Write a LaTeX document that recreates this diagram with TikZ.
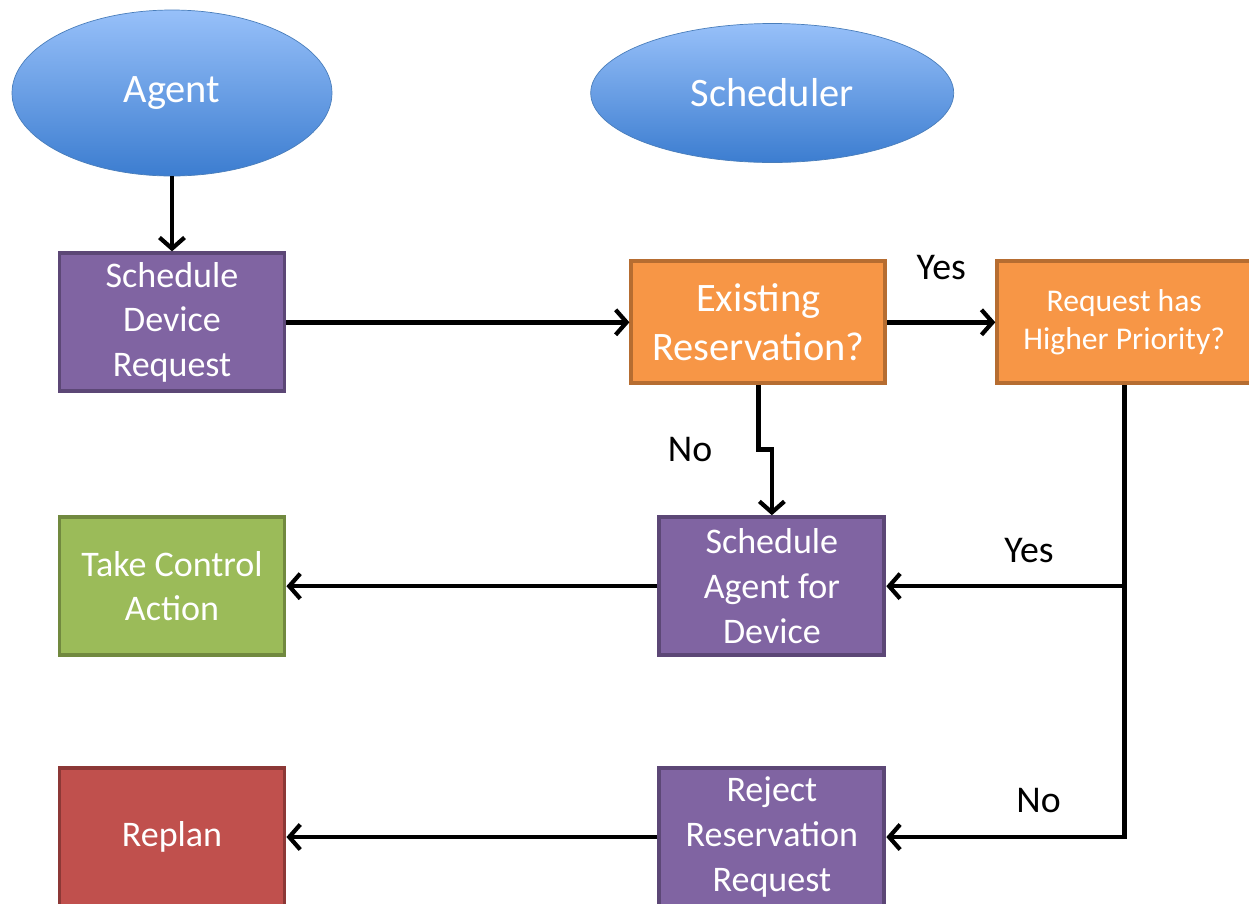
\documentclass[tikz,border=0pt]{standalone}
\usepackage{fontspec}
\setmainfont{Carlito}
\usetikzlibrary{positioning,shapes.geometric,arrows.meta}
\definecolor{elltop}{RGB}{151,192,249}
\definecolor{ellbot}{RGB}{60,125,208}
\definecolor{ellline}{RGB}{74,126,187}
\definecolor{boxpurple}{RGB}{128,100,162}
\definecolor{linepurple}{RGB}{92,71,118}
\definecolor{boxorange}{RGB}{247,150,70}
\definecolor{lineorange}{RGB}{182,109,49}
\definecolor{boxgreen}{RGB}{155,187,89}
\definecolor{linegreen}{RGB}{113,137,63}
\definecolor{boxred}{RGB}{192,80,77}
\definecolor{linered}{RGB}{140,56,54}

\begin{document}
\begin{tikzpicture}
	\tikzstyle{actor}=[ellipse, draw=ellline, thin, top color=elltop, bottom color=ellbot, text=white, font=\fontsize{23}{28}\selectfont]
	\tikzstyle{task}=[rectangle, draw=linepurple, fill=boxpurple, line width=2.2pt, text=white, align=center, minimum width=4.5cm, minimum height=2.76cm, font=\fontsize{20.5}{25.5}\selectfont]
	\tikzstyle{query}=[task, draw=lineorange, fill=boxorange, minimum width=5.08cm, minimum height=2.44cm]
	\tikzstyle{connect}=[-{Straight Barb[length=2.2mm,width=5mm,line width=2.4pt]}, line width=2.6pt]
	\tikzstyle{answer}=[font=\fontsize{21.5}{26}\selectfont]
	  \useasboundingbox (0,0) rectangle (24.98,-18.06);
	  \node[actor, minimum width=6.4cm, minimum height=3.32cm] (agent) at (3.44,-1.86) {Agent};
	  \node[actor, minimum width=7.26cm, minimum height=2.78cm] (sched) [right=5.16cm of agent] {Scheduler};
	  \node[task] (sdr) [below=1.5cm of agent] {Schedule\\Device\\Request};
	  \node[query, font=\fontsize{23}{28.3}\selectfont] (exist) [right=6.86cm of sdr] {Existing\\Reservation?};
	  \node[query, font=\fontsize{18}{22}\selectfont] (rhp) [right=2.16cm of exist] {Request has\\Higher Priority?};
	  \node[task, draw=linegreen, fill=boxgreen] (tca) [below=2.44cm of sdr] {Take Control\\Action};
	  \node[task] (sagent) [right=7.42cm of tca] {Schedule\\Agent for\\Device};
	  \node[task, draw=linered, fill=boxred] (replan) [below=2.18cm of tca] {Replan};
	  \node[task] (reject) [right=7.42cm of replan] {Reject\\Reservation\\Request};

	  \draw[connect] (agent) -- (sdr);
	  \draw[connect] (sdr) -- (exist);
	  \draw[connect] (exist) -- node[answer, above=0.68cm] {Yes} (rhp);
	  \draw[connect] (exist.south) -- node[answer, pos=1, left=0.76cm] {No} ++(0,-1.28) -| (sagent.north);
	  \draw[connect] (rhp.south) |- node[answer, pos=0.7, above=0.3cm] {Yes} (sagent.east);
	  \draw[connect] (rhp.south) |- node[answer, pos=0.68, above=0.32cm] {No} (reject.east);
	  \draw[connect] (sagent) -- (tca);
	  \draw[connect] (reject) -- (replan);
\end{tikzpicture}
\end{document}
